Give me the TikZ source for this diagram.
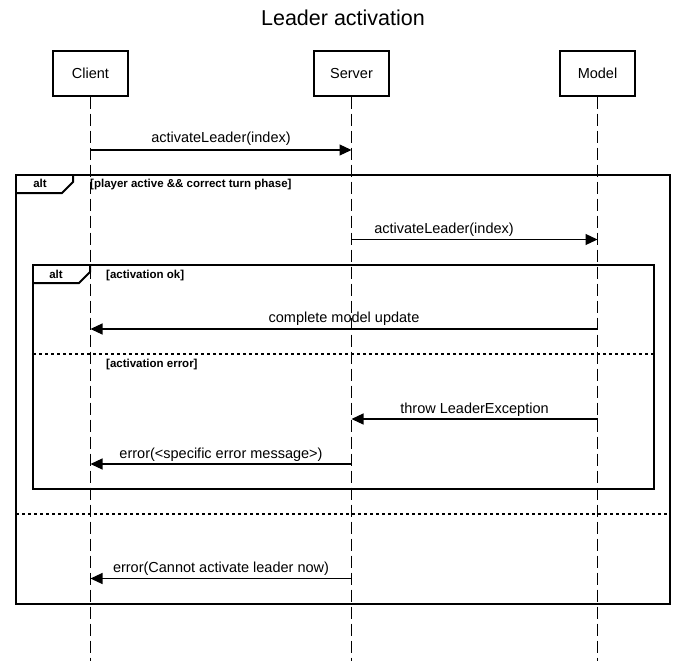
\documentclass[tikz,border=0pt]{standalone}
\usepackage{fontspec}
\setmainfont{Liberation Sans}
\usetikzlibrary{arrows.meta}
\begin{document}
\begin{tikzpicture}[x=1pt,y=-1pt,
  head/.style={draw,line width=2pt,minimum width=75pt,minimum height=44pt,inner sep=0pt,font=\fontsize{14.5}{17}\selectfont},
  life/.style={line width=1.1pt,dash pattern=on 12pt off 5pt},
  msg/.style={line width=1.2pt,-{Triangle[length=12pt,width=11pt]}},
  lbl/.style={anchor=base,inner sep=0pt,font=\fontsize{14.5}{17}\selectfont},
  frame/.style={draw,line width=2pt},
  sep/.style={line width=2pt,dash pattern=on 3pt off 3pt},
  guard/.style={anchor=base west,inner sep=0pt,font=\bfseries\fontsize{11.5}{13}\selectfont},
  op/.style={anchor=base,inner sep=0pt,font=\bfseries\fontsize{11.5}{13}\selectfont},
  ttl/.style={anchor=base,inner sep=0pt,font=\fontsize{21.5}{25}\selectfont},
]
\useasboundingbox (0,0) rectangle (687,661);

\node[ttl] (title) at (343,26) {Leader activation};

% lifeline heads
\node[head] (client) at (90.5,73.5) {Client};
\node[head] (server) at (351.5,73.5) {Server};
\node[head] (model) at (597.5,73.5) {Model};

% frames
\draw[frame] (16,175) rectangle (670,604);
\draw[frame] (16,193) -- (62,193) -- (73,182) -- (73,175);
\node[op] (alt1) at (40,187) {alt};
\node[guard] (g1) at (90,187) {[player active \&\& correct turn phase]};

\draw[frame] (33,265) rectangle (654,489);
\draw[frame] (33,283) -- (79,283) -- (90,272) -- (90,265);
\node[op] (alt2) at (56,278) {alt};
\node[guard] (g2) at (106,278) {[activation ok]};

\draw[sep] (33,353.5) -- (654,353.5);
\node[guard] (g3) at (106,367.5) {[activation error]};

\draw[sep] (16,513.5) -- (670,513.5);

% lifelines
\coordinate (cend) at (90.5,661);
\coordinate (send) at (351.5,661);
\coordinate (mend) at (597.5,661);
\draw[life] (client.south) -- (cend);
\draw[life] (server.south) -- (send);
\draw[life] (model.south) -- (mend);

% messages
\coordinate (y1) at (0,150);
\coordinate (y2) at (0,239.5);
\coordinate (y3) at (0,329);
\coordinate (y4) at (0,419);
\coordinate (y5) at (0,464);
\coordinate (y6) at (0,578.5);

\draw[msg] (client |- y1) -- (server |- y1);
\node[lbl] (l1) at (221,142.5) {activateLeader(index)};

\draw[msg] (server |- y2) -- (model |- y2);
\node[lbl] (l2) at (444,233) {activateLeader(index)};

\draw[msg] (model |- y3) -- (client |- y3);
\node[lbl] (l3) at (344,322.5) {complete model update};

\draw[msg] (model |- y4) -- (server |- y4);
\node[lbl] (l4) at (474.5,413) {throw LeaderException};

\draw[msg] (server |- y5) -- (client |- y5);
\node[lbl] (l5) at (221,458) {error(<specific error message>)};

\draw[msg] (server |- y6) -- (client |- y6);
\node[lbl] (l6) at (221,572.5) {error(Cannot activate leader now)};
\end{tikzpicture}
\end{document}
